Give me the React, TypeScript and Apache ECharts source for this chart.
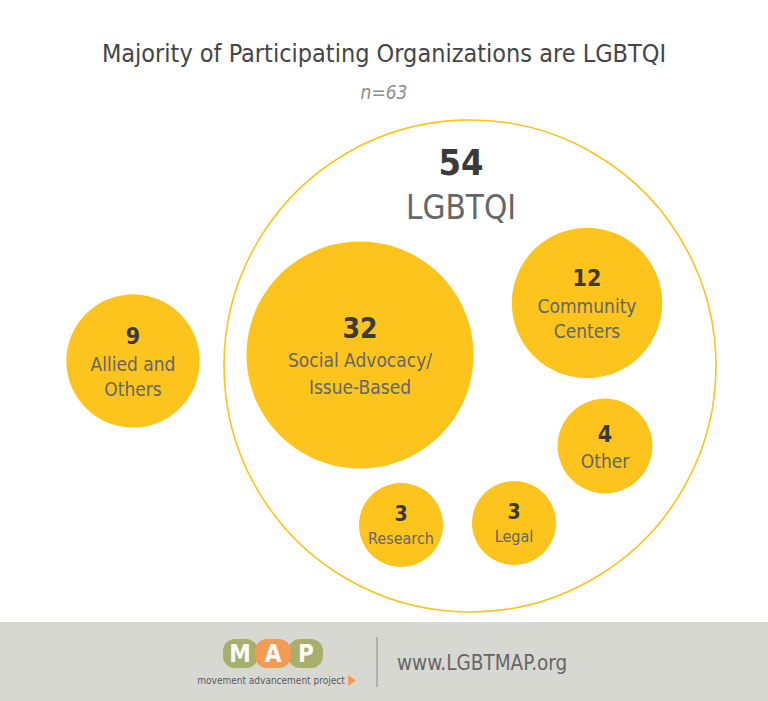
import React, { useEffect, useRef } from "react";
import * as echarts from "echarts";

const FONT = "'DejaVu Sans Condensed', 'Liberation Sans Narrow', Roboto, sans-serif";
const YELLOW = "#FCC41C";

const titleText = "Majority of Participating Organizations are LGBTQI";
const subtitleText = "n=63";

const groupTotal = 54;
const groupName = "LGBTQI";

const categories = ["Social Advocacy/\nIssue-Based", "Community\nCenters", "Other", "Research", "Legal", "Allied and\nOthers"];
const values = [32, 12, 4, 3, 3, 9];
// layout coordinates (chart space) for each bubble
const layoutX = [360, 587, 605, 401, 514, 133];
const layoutY = [355, 303, 446, 525, 523, 361];
const groupCenter = [470, 366];

const sizeOf = (v: number) => 84 * Math.pow(v / 3, 0.42);

export default function App() {
  const ref = useRef<HTMLDivElement>(null);
  useEffect(() => {
    if (!ref.current) return;
    const chart = echarts.init(ref.current, undefined, { renderer: "svg" });
    const bubbleData = values.map((v, i) => ({
      value: [layoutX[i], layoutY[i], v],
      name: categories[i],
    }));
    chart.setOption({
      animation: false,
      backgroundColor: "#ffffff",
      textStyle: { fontFamily: FONT },
      title: {
        text: titleText,
        subtext: subtitleText,
        left: "center",
        top: 34,
        itemGap: 15,
        textStyle: { fontFamily: FONT, fontSize: 25, fontWeight: "normal", color: "#454545", lineHeight: 28 },
        subtextStyle: { fontFamily: FONT, fontSize: 19, fontStyle: "italic", color: "#8c8c8c", lineHeight: 20 },
      },
      grid: { left: 0, right: 0, top: 0, bottom: 0 },
      xAxis: { type: "value", min: 0, max: 768, show: false },
      yAxis: { type: "value", min: 0, max: 701, inverse: true, show: false },
      series: [
        {
          type: "scatter",
          z: 1,
          symbol: "circle",
          symbolSize: 492,
          silent: true,
          data: [{ value: [groupCenter[0], groupCenter[1], groupTotal], name: groupName }],
          itemStyle: { color: "#ffffff", borderColor: YELLOW, borderWidth: 1.6, opacity: 1 },
          label: {
            show: true,
            position: "inside",
            offset: [-9, -181],
            formatter: (p: any) => `{v|${p.value[2]}}\n{n|${p.name}}`,
            rich: {
              v: { fontFamily: FONT, fontSize: 36, fontWeight: "bold", color: "#3a3a3a", lineHeight: 44, align: "center" },
              n: { fontFamily: FONT, fontSize: 33, color: "#666666", lineHeight: 46, align: "center" },
            },
          },
        },
        {
          type: "scatter",
          z: 2,
          symbol: "circle",
          symbolSize: (val: number[]) => sizeOf(val[2]),
          data: bubbleData,
          itemStyle: { color: YELLOW, opacity: 1 },
          label: {
            show: true,
            position: "inside",
            formatter: (p: any) => {
              const v = p.value[2];
              const k = v >= 20 ? "L" : v >= 4 ? "M" : "S";
              const lines = String(p.name).split("\n").map((s: string) => `{n${k}|${s}}`).join("\n");
              return `{v${k}|${v}}\n${lines}`;
            },
            rich: {
              vL: { fontFamily: FONT, fontSize: 28, fontWeight: "bold", color: "#3a3a3a", lineHeight: 36, align: "center" },
              nL: { fontFamily: FONT, fontSize: 19, color: "#666666", lineHeight: 27, align: "center" },
              vM: { fontFamily: FONT, fontSize: 23, fontWeight: "bold", color: "#3a3a3a", lineHeight: 30, align: "center" },
              nM: { fontFamily: FONT, fontSize: 19, color: "#666666", lineHeight: 25, align: "center" },
              vS: { fontFamily: FONT, fontSize: 21, fontWeight: "bold", color: "#3a3a3a", lineHeight: 26, align: "center" },
              nS: { fontFamily: FONT, fontSize: 16, color: "#666666", lineHeight: 22, align: "center" },
            },
          },
        },
      ],
      graphic: [
        { type: "rect", shape: { x: 0, y: 622, width: 768, height: 79 }, style: { fill: "#d8d8d3" }, z: 0 },
        { type: "line", shape: { x1: 377, y1: 637, x2: 377, y2: 687 }, style: { stroke: "#8a8a86", lineWidth: 1 } },
        {
          type: "text",
          x: 397,
          y: 663,
          style: { text: "www.LGBTMAP.org", fill: "#666666", font: `20.5px ${FONT}`, textVerticalAlign: "middle" },
        },
        { type: "rect", shape: { x: 223, y: 639, width: 35, height: 29, r: 12 }, style: { fill: "#a8ae6c" } },
        { type: "rect", shape: { x: 288, y: 639, width: 35, height: 29, r: 12 }, style: { fill: "#a8ae6c" } },
        { type: "rect", shape: { x: 255, y: 639, width: 36, height: 29, r: 12 }, style: { fill: "#f39b52" } },
        { type: "text", x: 240, y: 654, style: { text: "M", fill: "#ffffff", font: `bold 24px ${FONT}`, align: "center", verticalAlign: "middle" } },
        { type: "text", x: 273, y: 654, style: { text: "A", fill: "#ffffff", font: `bold 24px ${FONT}`, align: "center", verticalAlign: "middle" } },
        { type: "text", x: 306, y: 654, style: { text: "P", fill: "#ffffff", font: `bold 24px ${FONT}`, align: "center", verticalAlign: "middle" } },
        {
          type: "text",
          x: 271,
          y: 680,
          style: { text: "movement advancement project", fill: "#5a5a5a", font: `10px ${FONT}`, align: "center", verticalAlign: "middle" },
        },
        { type: "polygon", shape: { points: [[348, 675], [356, 680.5], [348, 686]] }, style: { fill: "#f39b52" } },
      ],
    });
    return () => chart.dispose();
  }, []);
  return <div ref={ref} style={{ width: 768, height: 701, position: "absolute", left: 0, top: 0 }} />;
}
